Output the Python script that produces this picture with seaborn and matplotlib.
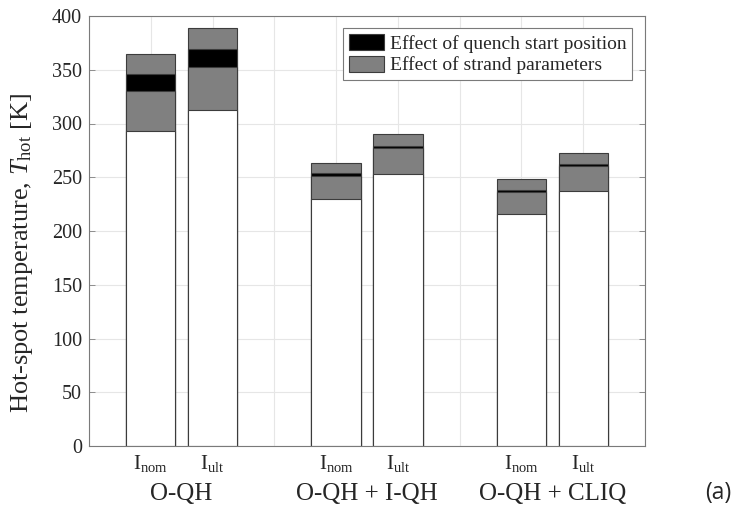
import numpy as np
import pandas as pd
import matplotlib
matplotlib.use("Agg")
import matplotlib.pyplot as plt
from matplotlib.patches import Patch
from matplotlib.transforms import blended_transform_factory
import seaborn as sns

# Protection schemes and operating currents
schemes = ["O-QH", "O-QH + I-QH", "O-QH + CLIQ"]
currents = ["nom", "ult"]

# Hot-spot temperature [K] per (scheme, current), in scheme-major order
t_min = [293.0, 312.5, 230.0, 253.0, 215.5, 237.5]      # lowest value (white bar)
qs_low = [330.5, 352.5, 251.5, 277.0, 236.5, 260.5]     # quench start position band, lower edge
qs_high = [346.0, 369.5, 253.5, 279.0, 238.5, 262.5]    # quench start position band, upper edge
t_max = [365.0, 389.0, 263.5, 290.0, 248.0, 273.0]      # highest value (top of strand band)

y_ticks = [0, 50, 100, 150, 200, 250, 300, 350, 400]

sns.set_theme(style="white")
plt.rcParams["font.family"] = ["Liberation Serif", "DejaVu Serif"]
plt.rcParams["mathtext.fontset"] = "custom"
plt.rcParams["mathtext.rm"] = "Liberation Serif"
plt.rcParams["mathtext.it"] = "Liberation Serif:italic"

# x positions: two bars per scheme, one empty slot between schemes
pos = [3 * g + 1 + k for g in range(len(schemes)) for k in range(len(currents))]

df = pd.DataFrame({"pos": pos, "t_min": t_min, "qs_low": qs_low,
                   "qs_high": qs_high, "t_max": t_max})

fig = plt.figure(figsize=(7.45, 5.23), dpi=100)
ax = fig.add_axes([89 / 745, 1 - 446 / 523, (645 - 89) / 745, (446 - 16) / 523])

grey = "#808080"
edge = "#3c3c3c"
# Layers drawn tallest first so each shorter layer covers the one behind
layers = [("t_max", grey), ("qs_high", "black"), ("qs_low", grey), ("t_min", "white")]
for col, colour in layers:
    sns.barplot(data=df, x="pos", y=col, native_scale=True, width=0.8,
                color=colour, saturation=1, edgecolor=edge, linewidth=0.8,
                errorbar=None, ax=ax)

ax.set_xlim(0, 9)
ax.set_ylim(0, 400)
ax.set_yticks(y_ticks)
ax.set_xticks(range(0, 10))
labels = [""] * 10
for p, k in zip(pos, [c for _ in schemes for c in currents]):
    labels[p] = r"$\mathrm{I}_{\mathrm{%s}}$" % k
ax.set_xticklabels(labels, fontsize=15)
ax.tick_params(axis="x", length=0, pad=5)
ax.tick_params(axis="y", direction="in", length=4, width=0.6, color="#808080",
               labelsize=14.5, pad=5, left=True, right=True)
ax.set_xlabel("")
ax.set_ylabel(r"Hot-spot temperature, $T_{\mathrm{hot}}$ [K]", fontsize=19)
ax.yaxis.set_label_coords(-0.098, 0.45)

ax.set_axisbelow(True)
ax.grid(True, color="#e6e6e6", linewidth=0.8)
for s in ax.spines.values():
    s.set_visible(True)
    s.set_color("#7a7a7a")
    s.set_linewidth(0.8)

trans = blended_transform_factory(ax.transData, ax.transAxes)
for g, name in enumerate(schemes):
    ax.text(3 * g + 1.5, -0.112, name, transform=trans, ha="center", va="center",
            fontsize=18)

handles = [Patch(facecolor="black", edgecolor=edge, linewidth=0.8),
           Patch(facecolor=grey, edgecolor=edge, linewidth=0.8)]
leg = ax.legend(handles, ["Effect of quench start position", "Effect of strand parameters"],
                loc="upper right", bbox_to_anchor=(0.977, 0.972), borderaxespad=0,
                fontsize=14, fancybox=False, framealpha=1, edgecolor="#7a7a7a",
                handlelength=1.8, handleheight=0.9, handletextpad=0.3,
                labelspacing=0.15, borderpad=0.3)
leg.get_frame().set_linewidth(0.8)

fig.text(718 / 745, 1 - 493 / 523, "(a)", ha="center", va="center",
         fontsize=16.5, family=["Open Sans", "DejaVu Sans"])

fig.savefig("out.png", dpi=100)
